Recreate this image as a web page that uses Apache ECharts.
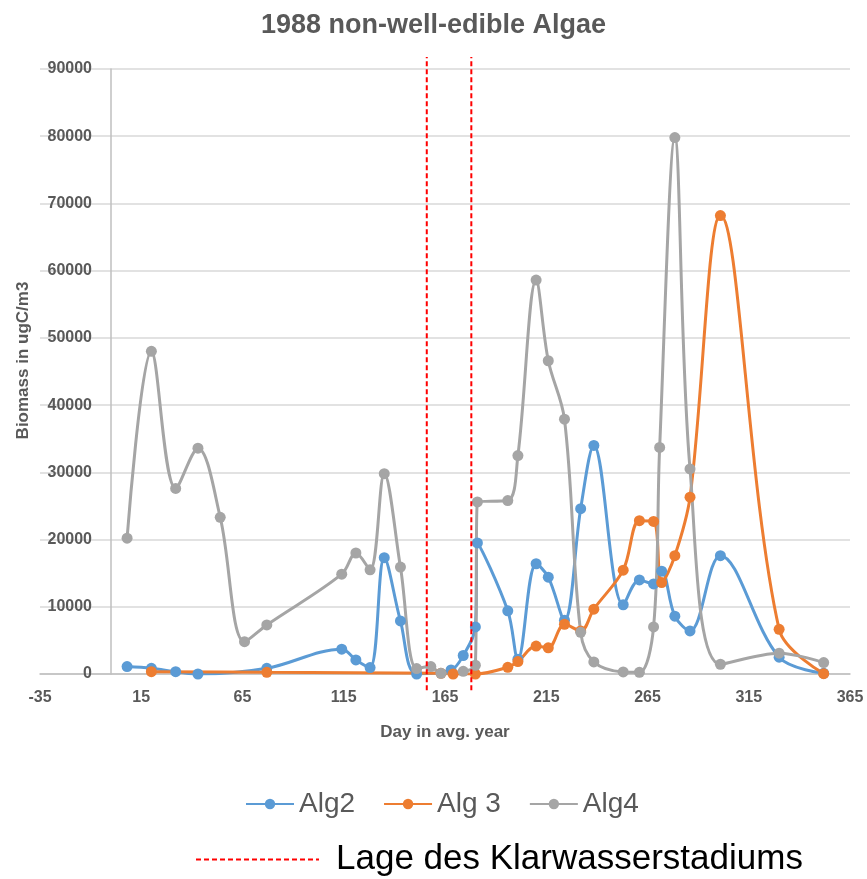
<!DOCTYPE html>
<html>
<head>
<meta charset="utf-8">
<script src="https://cdn.jsdelivr.net/npm/echarts@6/dist/echarts.min.js"></script>
<style>
  html, body { margin: 0; padding: 0; background: #fff; }
  #chart { width: 867px; height: 879px; }
</style>
</head>
<body>
<div id="chart"></div>
<script>
const alg2Days = [8, 20, 32, 43, 77, 114, 121, 128, 135, 143, 151, 168, 174, 180, 181, 196, 201, 210, 216, 224, 232, 238.5, 253, 261, 268, 272, 278.5, 286, 301, 330, 352];
const alg2Vals = [1100, 850, 350, 0, 850, 3700, 2100, 950, 17300, 7900, 0, 600, 2750, 7000, 19500, 9400, 2200, 16400, 14400, 8000, 24600, 34000, 10300, 14000, 13400, 15300, 8600, 6400, 17600, 2500, 100];

const alg3Days = [20, 77, 163, 169, 180, 196, 201, 210, 216, 224, 232, 238.5, 253, 261, 268, 272, 278.5, 286, 301, 330, 352];
const alg3Vals = [350, 250, 100, 0, 0, 1000, 1850, 4150, 3900, 7400, 6400, 9650, 15450, 22800, 22700, 13600, 17600, 26300, 68200, 6650, 50];

const alg4Days = [8, 20, 32, 43, 54, 66, 77, 114, 121, 128, 135, 143, 151, 158, 163, 174, 180, 181, 196, 201, 210, 216, 224, 232, 238.5, 253, 261, 268, 271, 278.5, 286, 301, 330, 352];
const alg4Vals = [20200, 48000, 27600, 33600, 23300, 4800, 7300, 14850, 18000, 15500, 29800, 15900, 800, 1100, 100, 400, 1300, 25600, 25800, 32500, 58600, 46600, 37900, 6200, 1800, 300, 250, 7000, 33700, 79800, 30500, 1450, 3100, 1700];

// Klarwasserstadium: two vertical marker lines
const klarDays = [156, 178];
const klarRange = [-2400, 91800];

const xMin = -35, xMax = 365, xStep = 50;
const yMin = 0, yMax = 90000, yStep = 10000;

const pairs = (xs, ys) => xs.map((x, i) => [x, ys[i]]);

const chart = echarts.init(document.getElementById('chart'));
const txt = '#595959';

function algSeries(name, days, vals, color) {
  return {
    name: name,
    type: 'line',
    smooth: 0.35,
    data: pairs(days, vals),
    symbol: 'circle',
    symbolSize: 11,
    lineStyle: { width: 3, color: color },
    itemStyle: { color: color },
    z: 2
  };
}

const klarSeries = klarDays.map(d => ({
  name: 'Lage des Klarwasserstadiums',
  type: 'line',
  clip: false,
  symbol: 'none',
  data: klarRange.map(v => [d, v]),
  lineStyle: { color: '#FF0000', width: 2, type: [5, 3] },
  itemStyle: { color: '#FF0000' },
  z: 5
}));

const option = {
  animation: false,
  textStyle: { fontFamily: '"Liberation Sans", Arial, sans-serif' },
  title: {
    text: '1988 non-well-edible Algae',
    left: 'center',
    top: 7,
    textStyle: { fontSize: 27, fontWeight: 'bold', color: txt }
  },
  grid: { left: 40, right: 17, top: 69, bottom: 205, outerBoundsMode: 'none' },
  legend: [
    {
      data: ['Alg2', 'Alg 3', 'Alg4'],
      left: 240,
      top: 785,
      itemWidth: 48,
      itemHeight: 13,
      itemGap: 28,
      textStyle: { fontSize: 28, color: txt }
    },
    {
      data: ['Lage des Klarwasserstadiums'],
      left: 190,
      top: 837,
      itemWidth: 123,
      itemHeight: 10,
      itemStyle: { opacity: 0 },
      textStyle: { fontSize: 35, color: '#000', padding: [0, 0, 0, 12] }
    }
  ],
  xAxis: {
    type: 'value',
    min: xMin,
    max: xMax,
    interval: xStep,
    name: 'Day in avg. year',
    nameLocation: 'middle',
    nameGap: 50,
    nameTextStyle: { fontSize: 17, fontWeight: 'bold', color: txt },
    axisLine: { show: true, lineStyle: { color: '#BFBFBF', width: 1.5 } },
    axisTick: { show: false },
    splitLine: { show: false },
    axisLabel: { fontSize: 16, fontWeight: 'bold', color: txt, margin: 16 }
  },
  yAxis: {
    type: 'value',
    min: yMin,
    max: yMax,
    interval: yStep,
    name: 'Biomass in ugC/m3',
    nameLocation: 'middle',
    nameGap: 8,
    nameTextStyle: { fontSize: 17, fontWeight: 'bold', color: txt, padding: [0, 0, 0, 22] },
    axisLine: { show: true, onZero: true, lineStyle: { color: '#BFBFBF', width: 1.5 } },
    axisTick: { show: false },
    splitLine: { show: true, lineStyle: { color: '#D9D9D9', width: 1.5 } },
    axisLabel: { fontSize: 16, fontWeight: 'bold', color: txt, margin: -52, formatter: v => String(v) }
  },
  series: [
    algSeries('Alg2', alg2Days, alg2Vals, '#5B9BD5'),
    algSeries('Alg 3', alg3Days, alg3Vals, '#ED7D31'),
    algSeries('Alg4', alg4Days, alg4Vals, '#A5A5A5')
  ].concat(klarSeries)
};

chart.setOption(option);
window.addEventListener('resize', function () {
  chart.resize();
});
</script>
</body>
</html>
